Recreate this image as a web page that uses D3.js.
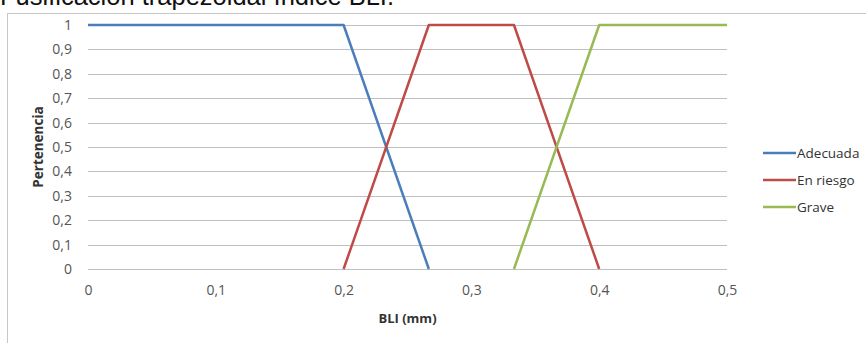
<!DOCTYPE html>
<html>
<head>
<meta charset="utf-8">
<script src="https://cdn.jsdelivr.net/npm/d3@7"></script>
<style>
  body { margin: 0; background: #fff; }
  svg { display: block; }
</style>
</head>
<body>
<svg id="chart"></svg>
<script>
// membership functions (x in mm, y = pertenencia)
const adecuada = [[0, 1], [0.2, 1], [0.2667, 0]];
const enRiesgo = [[0.2, 0], [0.2667, 1], [0.3333, 1], [0.4, 0]];
const grave = [[0.3333, 0], [0.4, 1], [0.5, 1]];

const seriesNames = ['Adecuada', 'En riesgo', 'Grave'];
const xTicks = [0, 0.1, 0.2, 0.3, 0.4, 0.5];
const yTicks = [0, 0.1, 0.2, 0.3, 0.4, 0.5, 0.6, 0.7, 0.8, 0.9, 1];

const COLORS = ['#4a7ebb', '#be4b48', '#98b954'];

const width = 866;
const height = 343;
const margin = { left: 88, right: 139, top: 25, bottom: 74 };

const svg = d3.select('#chart')
  .attr('width', width)
  .attr('height', height);

const fmt = v => String(v).replace('.', ',');

// cropped caption above the frame
svg.append('text')
  .attr('x', 0)
  .attr('y', 5)
  .style('font-family', 'Liberation Sans, Arial, sans-serif')
  .style('font-size', '25.5px')
  .attr('fill', '#111')
  .text('Fusificación trapezoidal índice BLI.');

// chart frame
svg.append('rect')
  .attr('x', 7.5)
  .attr('y', 13.5)
  .attr('width', 900)
  .attr('height', 400)
  .attr('fill', '#fff')
  .attr('stroke', '#c8c8c8');

const x = d3.scaleLinear().domain([0, 0.5]).range([margin.left, width - margin.right]);
const y = d3.scaleLinear().domain([0, 1]).range([height - margin.bottom, margin.top]);

const font = '"Open Sans", "Noto Sans", sans-serif';

// horizontal gridlines
svg.append('g')
  .selectAll('line')
  .data(yTicks)
  .enter()
  .append('line')
  .attr('x1', x(0))
  .attr('x2', x(0.5))
  .attr('y1', d => Math.round(y(d)) + 0.5)
  .attr('y2', d => Math.round(y(d)) + 0.5)
  .attr('stroke', '#c0c0c0')
  .attr('stroke-width', 1.2);

// y axis labels
const yAxis = d3.axisLeft(y).tickValues(yTicks).tickFormat(fmt).tickSize(0).tickPadding(16);
const yg = svg.append('g').attr('transform', `translate(${x(0)},0)`).call(yAxis);
yg.select('.domain').remove();
yg.selectAll('text')
  .style('font-family', font)
  .style('font-size', '14px')
  .attr('fill', '#555');

// x axis labels
const xAxis = d3.axisBottom(x).tickValues(xTicks).tickFormat(fmt).tickSize(0).tickPadding(16);
const xg = svg.append('g').attr('transform', `translate(0,${y(0)})`).call(xAxis);
xg.select('.domain').remove();
xg.selectAll('text')
  .style('font-family', font)
  .style('font-size', '14px')
  .attr('fill', '#555');

// axis titles
svg.append('text')
  .attr('x', x(0.25))
  .attr('y', 323)
  .attr('text-anchor', 'middle')
  .style('font-family', font)
  .style('font-size', '13px')
  .style('font-weight', 'bold')
  .attr('fill', '#333')
  .text('BLI (mm)');

svg.append('text')
  .attr('transform', `translate(43,${y(0.5)}) rotate(-90)`)
  .attr('text-anchor', 'middle')
  .style('font-family', font)
  .style('font-size', '13.5px')
  .style('font-weight', 'bold')
  .attr('fill', '#333')
  .text('Pertenencia');

// series lines
const line = d3.line().x(d => x(d[0])).y(d => y(d[1]));
[adecuada, enRiesgo, grave].forEach((s, i) => {
  svg.append('path')
    .datum(s)
    .attr('d', line)
    .attr('fill', 'none')
    .attr('stroke', COLORS[i])
    .attr('stroke-width', 2.5)
    .attr('stroke-linejoin', 'round');
});

// legend
const legend = svg.append('g').attr('transform', 'translate(763,153)');
const item = legend.selectAll('g')
  .data(seriesNames)
  .enter()
  .append('g')
  .attr('transform', (d, i) => `translate(0,${i * 27})`);
item.append('line')
  .attr('x1', 0)
  .attr('x2', 33)
  .attr('stroke', (d, i) => COLORS[i])
  .attr('stroke-width', 2.5);
item.append('text')
  .attr('x', 34)
  .attr('dy', '0.35em')
  .style('font-family', font)
  .style('font-size', '13.5px')
  .attr('fill', '#333')
  .text(d => d);
</script>
</body>
</html>
